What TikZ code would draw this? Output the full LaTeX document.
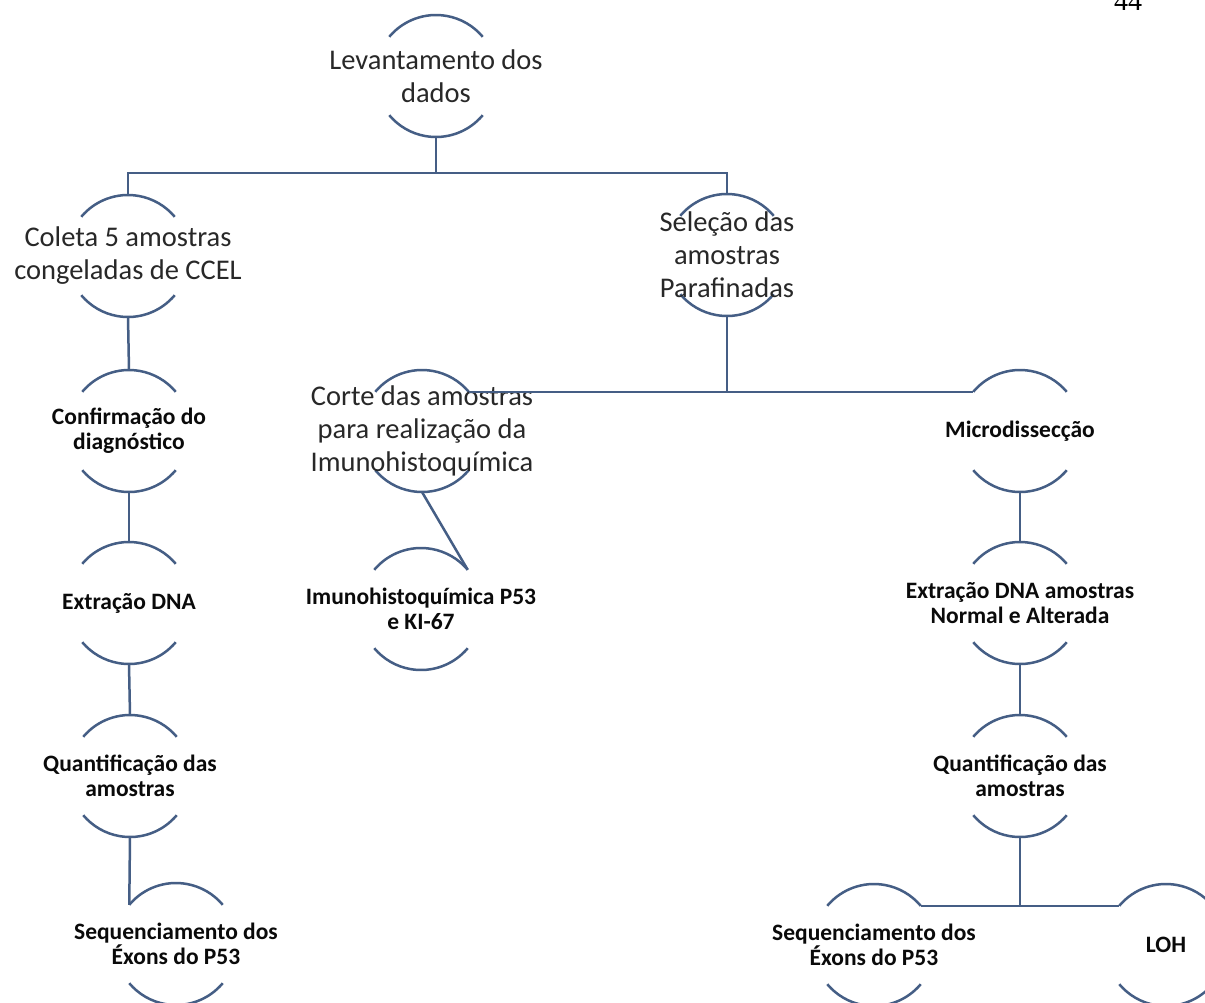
\documentclass[tikz,border=0pt]{standalone}
\usepackage{fontspec}
\setmainfont{Carlito}
\newfontfamily\pagefont{Liberation Serif}
\definecolor{lineblue}{RGB}{69,94,133}
\definecolor{bigtxt}{RGB}{40,40,40}
\definecolor{smalltxt}{RGB}{10,10,10}
\tikzset{
  blob/.style={circle, minimum size=122pt, inner sep=0pt, outer sep=0pt, draw=none},
  arcline/.style={draw=lineblue, line width=2.5pt},
  conn/.style={draw=lineblue, line width=2.5pt},
  bigtext/.style={font=\fontsize{28.5}{33}\selectfont, align=center, text=bigtxt, inner sep=0pt},
  smalltext/.style={font=\fontsize{23.5}{25}\selectfont\bfseries, align=center, text=smalltxt, inner sep=0pt},
}
\newcommand{\blobnode}[5]{%
  \node[blob] (#1) at (#2,#3) {};
  \draw[arcline] ([shift={(40:61)}]#1.center) arc[start angle=40,end angle=140,radius=61];
  \draw[arcline] ([shift={(220:61)}]#1.center) arc[start angle=220,end angle=320,radius=61];
  \node[#4] (#1-t) at (#1.center) {#5};
}
\begin{document}
\begin{tikzpicture}[x=1pt,y=-1pt]
\fill[white] (0,0) rectangle (1205,1002);
\useasboundingbox (0,0) rectangle (1205,1002);
\clip (0,0) rectangle (1205,1002);

\blobnode{lev}{436}{76}{bigtext}{Levantamento dos\\dados}
\blobnode{coleta}{128}{256}{bigtext}{Coleta 5 amostras\\congeladas de CCEL}
\blobnode{selecao}{727}{255}{bigtext}{Seleção das\\amostras\\Parafinadas}
\blobnode{confirm}{129}{431}{smalltext}{Confirmação do\\diagnóstico}
\blobnode{corte}{422}{431}{bigtext}{Corte das amostras\\para realização da\\Imunohistoquímica}
\blobnode{micro}{1020}{431}{smalltext}{Microdissecção}
\blobnode{extrL}{129}{603}{smalltext}{Extração DNA}
\blobnode{extrR}{1020}{603}{smalltext}{Extração DNA amostras\\Normal e Alterada}
\blobnode{imuno}{421}{609}{smalltext}{Imunohistoquímica P53\\e KI-67}
\blobnode{quantL}{130}{776}{smalltext}{Quantificação das\\amostras}
\blobnode{quantR}{1020}{776}{smalltext}{Quantificação das\\amostras}
\blobnode{seqL}{176}{944}{smalltext}{Sequenciamento dos\\Éxons do P53}
\blobnode{seqR}{874}{945}{smalltext}{Sequenciamento dos\\Éxons do P53}
\blobnode{loh}{1166}{945}{smalltext}{LOH}

\node[font=\pagefont\fontsize{28}{30}\selectfont, anchor=base, inner sep=0pt] (page) at (1128,10) {44};

\coordinate (bus) at (436,173);
\draw[conn] (lev.south) -- (bus);
\draw[conn] (coleta.north) |- (bus) -| (selecao.north);
\draw[conn] (coleta.south) -- (confirm.north);
\draw[conn] (confirm.south) -- (extrL.north);
\draw[conn] (extrL.south) -- (quantL.north);
\draw[conn] (quantL.south) -- (seqL.140);
\draw[conn] (selecao.south) -- (selecao.south |- micro.140);
\draw[conn] (corte.40) -- (micro.140);
\draw[conn] (corte.south) -- (imuno.40);
\draw[conn] (micro.south) -- (extrR.north);
\draw[conn] (extrR.south) -- (quantR.north);
\draw[conn] (quantR.south) -- (quantR.south |- seqR.40);
\draw[conn] (seqR.40) -- (loh.140);
\end{tikzpicture}
\end{document}
